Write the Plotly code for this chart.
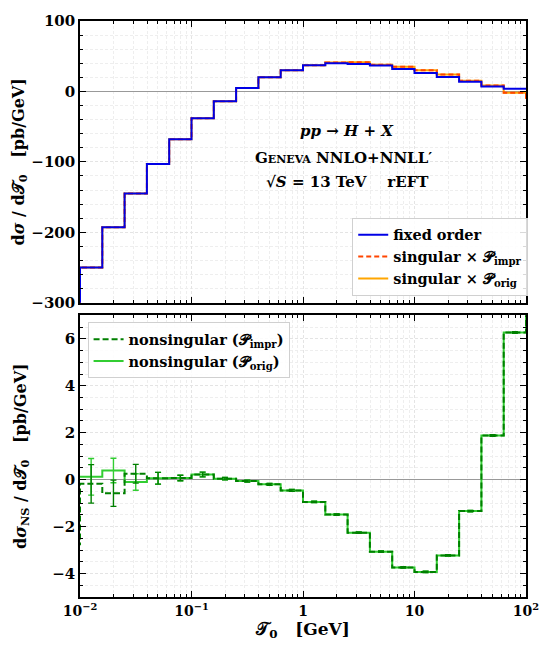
import numpy as np
import plotly.graph_objects as go

# ---------------- data ----------------
# bin edges as log10 exponents (0.2-decade bins), plus one bin either side (off-scale)
edge_exp = [-2.2, -2.0, -1.8, -1.6, -1.4, -1.2, -1.0, -0.8, -0.6, -0.4, -0.2,
            0.0, 0.2, 0.4, 0.6, 0.8, 1.0, 1.2, 1.4, 1.6, 1.8, 2.0, 2.2]

# top panel: dσ/dT0 [pb/GeV] (first and last entries are off-scale neighbour bins)
fixed_order = [-420, -250, -193, -145, -103, -68, -38, -14, 5, 20, 30, 37,
               40, 39, 36.8, 32, 26, 20.5, 13.6, 7, 3.8, 3.8]
singular_impr = [-420, -250, -193, -145, -103, -68, -38, -14, 5, 20, 30, 37,
                 41, 41.5, 38, 35, 30, 24, 15, 8.5, -1.8, -9]
singular_orig = [-420, -250, -193, -145, -103, -68, -38, -14, 5, 20, 30, 37,
                 41, 41.5, 38, 35, 30, 24, 15, 8.5, -1.8, -9]

# bottom panel: nonsingular dσ_NS/dT0 [pb/GeV]
ns_impr = [-2.75, -0.18, -0.58, 0.25, 0.06, 0.07, 0.22, 0.04, -0.06, -0.2, -0.46,
           -0.95, -1.49, -2.26, -3.07, -3.74, -3.93, -3.23, -1.34, 1.88, 6.27, 9.0]
ns_orig = [None, 0.12, 0.39, -0.10, 0.06, 0.07, 0.22, 0.04, -0.06, -0.2, -0.46,
           -0.95, -1.49, -2.26, -3.07, -3.74, -3.93, -3.23, -1.34, 1.88, 6.27, 9.0]
ns_impr_err = [0.82, 0.56, 0.40, 0.25, 0.12, 0.10, 0.05, 0.04, 0.04, 0.04,
               0.03, 0.03, 0.03, 0.03, 0.03, 0.03, 0.03, 0.03, 0.03, 0.03]
ns_orig_err = [0.78, 0.52, 0.35, 0.25, 0.12, 0.10, 0.05, 0.04, 0.04, 0.04,
               0.03, 0.03, 0.03, 0.03, 0.03, 0.03, 0.03, 0.03, 0.03, 0.03]

x_tickvals = [0.01, 0.1, 1, 10, 100]
x_ticktext = ["10<sup>−2</sup>", "10<sup>−1</sup>", "1", "10", "10<sup>2</sup>"]

# ---------------- build ----------------
edges = np.power(10.0, edge_exp)
left = edges[:-1]
centers = np.sqrt(edges[1:-2] * edges[2:-1])  # in-range bin centres


def step_xy(vals):
    xs = list(left) + [edges[-1]]
    ys = list(vals) + [vals[-1]]
    return xs, ys


FONT = "DejaVu Serif"
fig = go.Figure()

C_BLUE = "#0000e6"
C_RED = "#ff4500"
C_ORANGE = "#ffa500"
C_DG = "#008000"
C_LG = "#32cd32"

x, y = step_xy(singular_orig)
fig.add_trace(go.Scatter(x=x, y=y, mode="lines", line=dict(shape="hv", color=C_ORANGE, width=2),
                         name="singular × 𝒫<sub>orig</sub>", legendrank=3, xaxis="x", yaxis="y", legend="legend"))
x, y = step_xy(singular_impr)
fig.add_trace(go.Scatter(x=x, y=y, mode="lines", line=dict(shape="hv", color=C_RED, width=2, dash="5px,3px"),
                         name="singular × 𝒫<sub>impr</sub>", legendrank=2, xaxis="x", yaxis="y", legend="legend"))
x, y = step_xy(fixed_order)
fig.add_trace(go.Scatter(x=x, y=y, mode="lines", line=dict(shape="hv", color=C_BLUE, width=2),
                         name="fixed order", legendrank=1, xaxis="x", yaxis="y", legend="legend"))

# bottom
x, y = step_xy(ns_orig)
fig.add_trace(go.Scatter(x=x, y=y, mode="lines", line=dict(shape="hv", color=C_LG, width=2),
                         name="nonsingular (𝒫<sub>orig</sub>)", legendrank=2, xaxis="x2", yaxis="y2",
                         legend="legend2", connectgaps=False))
fig.add_trace(go.Scatter(x=centers, y=ns_orig[1:-1], mode="markers", marker=dict(size=1, color=C_LG, opacity=0),
                         error_y=dict(type="data", array=ns_orig_err, color=C_LG, thickness=1.4, width=3),
                         showlegend=False, hoverinfo="skip", xaxis="x2", yaxis="y2"))
x, y = step_xy(ns_impr)
fig.add_trace(go.Scatter(x=x, y=y, mode="lines", line=dict(shape="hv", color=C_DG, width=2, dash="6px,3px"),
                         name="nonsingular (𝒫<sub>impr</sub>)", legendrank=1, xaxis="x2", yaxis="y2",
                         legend="legend2"))
fig.add_trace(go.Scatter(x=centers, y=ns_impr[1:-1], mode="markers", marker=dict(size=1, color=C_DG, opacity=0),
                         error_y=dict(type="data", array=ns_impr_err, color=C_DG, thickness=1.4, width=3),
                         showlegend=False, hoverinfo="skip", xaxis="x2", yaxis="y2"))

MAJ_GRID = "#e4e4e4"
MIN_GRID = "#eeeeee"
GDASH = "3px,2px"
grid = dict(showgrid=True, gridcolor=MAJ_GRID, griddash=GDASH, gridwidth=1)
axis_common = dict(showline=True, linecolor="black", linewidth=1.5, mirror="ticks", ticks="inside",
                   ticklen=6, tickwidth=1.2, tickcolor="black",
                   tickfont=dict(family=FONT, size=15, color="black", weight="bold"), **grid)

xaxis_common = dict(axis_common, type="log", range=[-2, 2], tickmode="array", tickvals=x_tickvals,
                    ticktext=x_ticktext,
                    tickfont=dict(family=FONT, size=14, color="black", weight="bold"),
                    minor=dict(ticks="inside", ticklen=3, tickcolor="black", dtick="D1",
                               showgrid=True, gridcolor=MIN_GRID, griddash=GDASH))

title_font = dict(family=FONT, size=16, color="black", weight="bold")

fig.update_layout(
    width=551, height=646,
    margin=dict(l=80, r=12, t=17, b=42),
    paper_bgcolor="white", plot_bgcolor="white",
    font=dict(family=FONT, size=14, color="black", weight="bold"),
    xaxis=dict(xaxis_common, domain=[0, 1], anchor="y", showticklabels=False, matches="x2"),
    xaxis2=dict(xaxis_common, domain=[0, 1], anchor="y2",
                title=dict(text="𝒯<sub>0</sub>   [GeV]", font=dict(title_font, size=17), standoff=4)),
    yaxis=dict(axis_common, domain=[0.511, 1], anchor="x", range=[-300, 100], dtick=100,
               zeroline=True, zerolinecolor="#999999", zerolinewidth=1,
               minor=dict(ticks="inside", ticklen=3, tickcolor="black", dtick=20,
                          showgrid=True, gridcolor=MIN_GRID, griddash=GDASH),
               title=dict(text="d<i>σ</i> / d𝒯<sub>0</sub>   [pb/GeV]", font=title_font,
                          standoff=3)),
    yaxis2=dict(axis_common, domain=[0, 0.489], anchor="x2", range=[-5, 7], dtick=2,
                zeroline=True, zerolinecolor="#999999", zerolinewidth=1,
                minor=dict(ticks="inside", ticklen=3, tickcolor="black", dtick=0.5,
                           showgrid=True, gridcolor=MIN_GRID, griddash=GDASH),
                title=dict(text="d<i>σ</i><sub>NS</sub> / d𝒯<sub>0</sub>   [pb/GeV]",
                           font=title_font, standoff=22)),
    legend=dict(x=1.005, y=0.523, xanchor="right", yanchor="bottom", bgcolor="rgba(255,255,255,0.85)",
                bordercolor="#d0d0d0", borderwidth=1,
                font=dict(family=FONT, size=14.5, color="black", weight="bold"),
                tracegroupgap=0, itemwidth=30),
    legend2=dict(x=0.017, y=0.477, xanchor="left", yanchor="top", bgcolor="rgba(255,255,255,0.85)",
                 bordercolor="#d0d0d0", borderwidth=1,
                 font=dict(family=FONT, size=14.5, color="black", weight="bold"),
                 tracegroupgap=0, itemwidth=30),
)

ann_font = dict(family=FONT, size=15, color="black", weight="bold")
fig.add_annotation(xref="paper", yref="paper", x=0.599, y=0.828, text="<i>pp</i> → <i>H</i> + <i>X</i>",
                   showarrow=False, font=ann_font)
fig.add_annotation(xref="paper", yref="paper", x=0.590, y=0.782,
                   text="G<span style='font-size:11px'>ENEVA</span> NNLO+NNLL′",
                   showarrow=False, font=ann_font)
fig.add_annotation(xref="paper", yref="paper", x=0.599, y=0.739,
                   text="√<i>S</i> = 13 TeV    rEFT",
                   showarrow=False, font=ann_font)

fig.write_html("out.html")
